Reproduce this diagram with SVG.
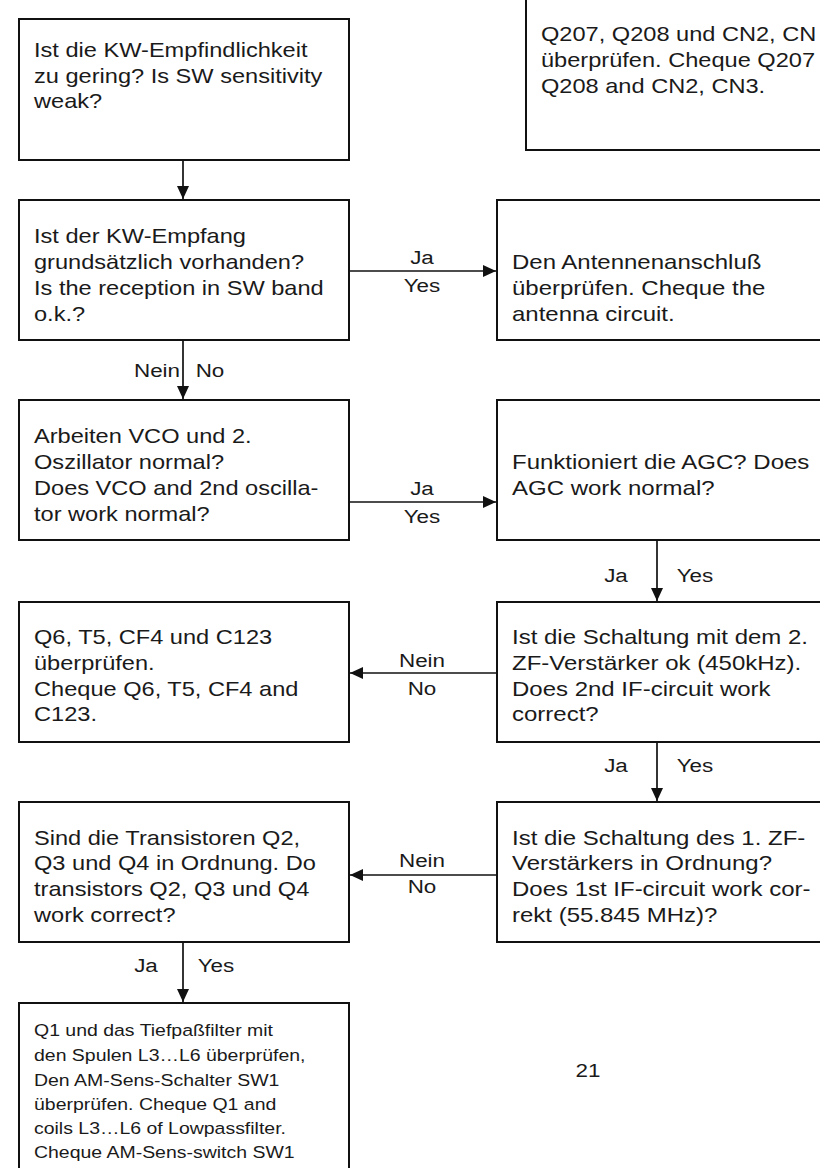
<svg xmlns="http://www.w3.org/2000/svg" width="820" height="1168" viewBox="0 0 820 1168">
  <style>
    .box { fill: #ffffff; stroke: #111111; stroke-width: 2; }
    .txt { font-family: "Liberation Sans", Arial, sans-serif; font-size: 20px; fill: #1a1a1a; }
    .small { font-size: 16.5px; }
    .lbl { font-family: "Liberation Sans", Arial, sans-serif; font-size: 19px; fill: #1a1a1a; text-anchor: middle; }
    .conn { stroke: #111111; stroke-width: 1.7; fill: none; marker-end: url(#arrow); }
  </style>
  <defs>
    <marker id="arrow" markerUnits="userSpaceOnUse" markerWidth="14" markerHeight="12" refX="13" refY="6" orient="auto">
      <path d="M0,0 L13,6 L0,12 z" fill="#111111"/>
    </marker>
  </defs>
  <rect width="820" height="1168" fill="#ffffff"/>

  <!-- top-right: connector check -->
  <g id="n-q207">
    <rect class="box" x="526" y="-10" width="310" height="160"/>
    <g transform="translate(541 0) scale(1.18 1)">
      <text class="txt" x="0" y="41">Q207, Q208 und CN2, CN</text>
      <text class="txt" x="0" y="67">überprüfen. Cheque Q207</text>
      <text class="txt" x="0" y="93">Q208 and CN2, CN3.</text>
    </g>
  </g>

  <!-- start question -->
  <g id="n-start">
    <rect class="box" x="19" y="19" width="330" height="141"/>
    <g transform="translate(34 0) scale(1.18 1)">
      <text class="txt" x="0" y="57">Ist die KW-Empfindlichkeit</text>
      <text class="txt" x="0" y="83">zu gering? Is SW sensitivity</text>
      <text class="txt" x="0" y="108">weak?</text>
    </g>
  </g>

  <g id="n-reception">
    <rect class="box" x="19" y="200" width="330" height="140"/>
    <g transform="translate(34 0) scale(1.18 1)">
      <text class="txt" x="0" y="243">Ist der KW-Empfang</text>
      <text class="txt" x="0" y="269">grundsätzlich vorhanden?</text>
      <text class="txt" x="0" y="295">Is the reception in SW band</text>
      <text class="txt" x="0" y="321">o.k.?</text>
    </g>
  </g>

  <g id="n-antenna">
    <rect class="box" x="497" y="200" width="340" height="140"/>
    <g transform="translate(512 0) scale(1.2 1)">
      <text class="txt" x="0" y="269">Den Antennenanschluß</text>
      <text class="txt" x="0" y="295">überprüfen. Cheque the</text>
      <text class="txt" x="0" y="321">antenna circuit.</text>
    </g>
  </g>

  <g id="n-vco">
    <rect class="box" x="19" y="400" width="330" height="140"/>
    <g transform="translate(34 0) scale(1.18 1)">
      <text class="txt" x="0" y="443">Arbeiten VCO und 2.</text>
      <text class="txt" x="0" y="469">Oszillator normal?</text>
      <text class="txt" x="0" y="495">Does VCO and 2nd oscilla-</text>
      <text class="txt" x="0" y="521">tor work normal?</text>
    </g>
  </g>

  <g id="n-agc">
    <rect class="box" x="497" y="400" width="340" height="140"/>
    <g transform="translate(512 0) scale(1.2 1)">
      <text class="txt" x="0" y="469">Funktioniert die AGC? Does</text>
      <text class="txt" x="0" y="495">AGC work normal?</text>
    </g>
  </g>

  <g id="n-q6">
    <rect class="box" x="19" y="602" width="330" height="140"/>
    <g transform="translate(34 0) scale(1.18 1)">
      <text class="txt" x="0" y="644">Q6, T5, CF4 und C123</text>
      <text class="txt" x="0" y="670">überprüfen.</text>
      <text class="txt" x="0" y="696">Cheque Q6, T5, CF4 and</text>
      <text class="txt" x="0" y="721">C123.</text>
    </g>
  </g>

  <g id="n-if2">
    <rect class="box" x="497" y="602" width="340" height="140"/>
    <g transform="translate(512 0) scale(1.2 1)">
      <text class="txt" x="0" y="644">Ist die Schaltung mit dem 2.</text>
      <text class="txt" x="0" y="670">ZF-Verstärker ok (450kHz).</text>
      <text class="txt" x="0" y="696">Does 2nd IF-circuit work</text>
      <text class="txt" x="0" y="721">correct?</text>
    </g>
  </g>

  <g id="n-transistors">
    <rect class="box" x="19" y="802" width="330" height="140"/>
    <g transform="translate(34 0) scale(1.18 1)">
      <text class="txt" x="0" y="845">Sind die Transistoren Q2,</text>
      <text class="txt" x="0" y="870">Q3 und Q4 in Ordnung. Do</text>
      <text class="txt" x="0" y="896">transistors Q2, Q3 und Q4</text>
      <text class="txt" x="0" y="922">work correct?</text>
    </g>
  </g>

  <g id="n-if1">
    <rect class="box" x="497" y="802" width="340" height="140"/>
    <g transform="translate(512 0) scale(1.2 1)">
      <text class="txt" x="0" y="845">Ist die Schaltung des 1. ZF-</text>
      <text class="txt" x="0" y="870">Verstärkers in Ordnung?</text>
      <text class="txt" x="0" y="896">Does 1st IF-circuit work cor-</text>
      <text class="txt" x="0" y="922">rekt (55.845 MHz)?</text>
    </g>
  </g>

  <g id="n-lowpass">
    <rect class="box" x="19" y="1003" width="330" height="190"/>
    <g transform="translate(34 0) scale(1.18 1)">
      <text class="txt small" x="0" y="1036">Q1 und das Tiefpaßfilter mit</text>
      <text class="txt small" x="0" y="1061">den Spulen L3…L6 überprüfen,</text>
      <text class="txt small" x="0" y="1086">Den AM-Sens-Schalter SW1</text>
      <text class="txt small" x="0" y="1110">überprüfen. Cheque Q1 and</text>
      <text class="txt small" x="0" y="1134">coils L3…L6 of Lowpassfilter.</text>
      <text class="txt small" x="0" y="1158">Cheque AM-Sens-switch SW1</text>
    </g>
  </g>

  <!-- connectors and their branch labels -->
  <g id="connectors">
    <line class="conn" x1="183" y1="160" x2="183" y2="199"/>

    <line class="conn" x1="349" y1="271" x2="496" y2="271"/>
    <text class="lbl" transform="translate(422 264) scale(1.18 1)">Ja</text>
    <text class="lbl" transform="translate(422 292) scale(1.18 1)">Yes</text>

    <line class="conn" x1="183" y1="340" x2="183" y2="399"/>
    <text class="lbl" transform="translate(157 377) scale(1.18 1)">Nein</text>
    <text class="lbl" transform="translate(210 377) scale(1.18 1)">No</text>

    <line class="conn" x1="349" y1="502" x2="496" y2="502"/>
    <text class="lbl" transform="translate(422 495) scale(1.18 1)">Ja</text>
    <text class="lbl" transform="translate(422 523) scale(1.18 1)">Yes</text>

    <line class="conn" x1="657" y1="540" x2="657" y2="601"/>
    <text class="lbl" transform="translate(616 582) scale(1.18 1)">Ja</text>
    <text class="lbl" transform="translate(695 582) scale(1.18 1)">Yes</text>

    <line class="conn" x1="497" y1="673" x2="350" y2="673"/>
    <text class="lbl" transform="translate(422 667) scale(1.18 1)">Nein</text>
    <text class="lbl" transform="translate(422 695) scale(1.18 1)">No</text>

    <line class="conn" x1="657" y1="742" x2="657" y2="801"/>
    <text class="lbl" transform="translate(616 772) scale(1.18 1)">Ja</text>
    <text class="lbl" transform="translate(695 772) scale(1.18 1)">Yes</text>

    <line class="conn" x1="497" y1="875" x2="350" y2="875"/>
    <text class="lbl" transform="translate(422 867) scale(1.18 1)">Nein</text>
    <text class="lbl" transform="translate(422 893) scale(1.18 1)">No</text>

    <line class="conn" x1="183" y1="942" x2="183" y2="1002"/>
    <text class="lbl" transform="translate(146 972) scale(1.18 1)">Ja</text>
    <text class="lbl" transform="translate(216 972) scale(1.18 1)">Yes</text>
  </g>

  <text class="lbl" transform="translate(588 1077) scale(1.18 1)">21</text>
</svg>
